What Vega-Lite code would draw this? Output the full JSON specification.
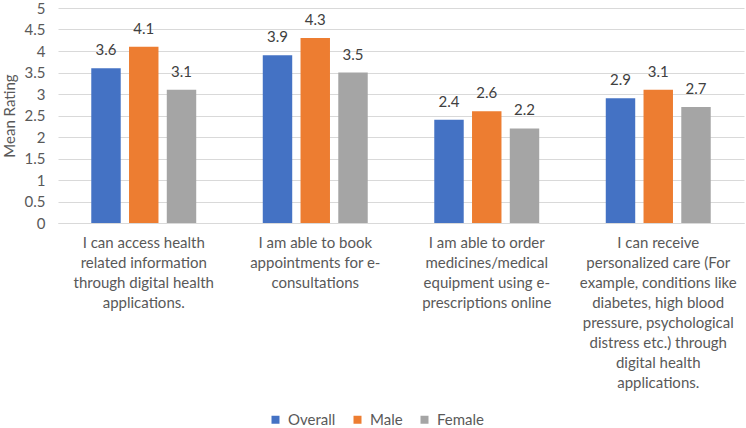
{
  "$schema": "https://vega.github.io/schema/vega-lite/v6.json",
  "width": 686,
  "height": 215,
  "autosize": {"type": "none"},
  "padding": {"left": 58, "top": 8, "right": 2, "bottom": 205},
  "background": "white",
  "config": {
    "font": "Lato",
    "view": {"stroke": null},
    "axis": {"labelColor": "#595959", "titleColor": "#595959", "labelFont": "Lato", "titleFont": "Lato"}
  },
  "data": {
    "values": [
      {"statement": "I can access health\nrelated information\nthrough digital health\napplications.", "group": "Overall", "rating": 3.6},
      {"statement": "I can access health\nrelated information\nthrough digital health\napplications.", "group": "Male", "rating": 4.1},
      {"statement": "I can access health\nrelated information\nthrough digital health\napplications.", "group": "Female", "rating": 3.1},
      {"statement": "I am able to book\nappointments for e-\nconsultations", "group": "Overall", "rating": 3.9},
      {"statement": "I am able to book\nappointments for e-\nconsultations", "group": "Male", "rating": 4.3},
      {"statement": "I am able to book\nappointments for e-\nconsultations", "group": "Female", "rating": 3.5},
      {"statement": "I am able to order\nmedicines/medical\nequipment using e-\nprescriptions online", "group": "Overall", "rating": 2.4},
      {"statement": "I am able to order\nmedicines/medical\nequipment using e-\nprescriptions online", "group": "Male", "rating": 2.6},
      {"statement": "I am able to order\nmedicines/medical\nequipment using e-\nprescriptions online", "group": "Female", "rating": 2.2},
      {"statement": "I can receive\npersonalized care (For\nexample, conditions like\ndiabetes, high blood\npressure, psychological\ndistress etc.) through\ndigital health\napplications.", "group": "Overall", "rating": 2.9},
      {"statement": "I can receive\npersonalized care (For\nexample, conditions like\ndiabetes, high blood\npressure, psychological\ndistress etc.) through\ndigital health\napplications.", "group": "Male", "rating": 3.1},
      {"statement": "I can receive\npersonalized care (For\nexample, conditions like\ndiabetes, high blood\npressure, psychological\ndistress etc.) through\ndigital health\napplications.", "group": "Female", "rating": 2.7}
    ]
  },
  "encoding": {
    "x": {
      "field": "statement", "type": "nominal", "sort": null, "title": null,
      "scale": {"paddingInner": 0.388, "paddingOuter": 0.194},
      "axis": {
        "labelAngle": 0, "labelFontSize": 15, "labelLineHeight": 20, "labelPadding": 12,
        "labelExpr": "split(datum.value, '\\n')", "labelLimit": 300,
        "ticks": false, "domainColor": "#D9D9D9", "domainWidth": 1, "grid": false
      }
    },
    "xOffset": {
      "field": "group", "type": "nominal", "sort": ["Overall", "Male", "Female"],
      "scale": {"paddingInner": 0.22, "paddingOuter": 0}
    },
    "y": {
      "field": "rating", "type": "quantitative", "title": "Mean Rating",
      "scale": {"domain": [0, 5], "nice": false},
      "axis": {
        "values": [0, 0.5, 1, 1.5, 2, 2.5, 3, 3.5, 4, 4.5, 5],
        "labelExpr": "datum.value",
        "labelFontSize": 15, "titleFontSize": 15, "titleFontWeight": "normal",
        "ticks": false, "domain": false, "gridColor": "#D9D9D9", "labelPadding": 13, "titlePadding": 7
      }
    }
  },
  "layer": [
    {
      "mark": {"type": "bar"},
      "encoding": {
        "color": {
          "field": "group", "type": "nominal",
          "scale": {"domain": ["Overall", "Male", "Female"], "range": ["#4472C4", "#ED7D31", "#A5A5A5"]},
          "legend": {
            "title": null, "orient": "none", "direction": "horizontal",
            "legendX": 210, "legendY": 404,
            "symbolType": "square", "symbolSize": 64, "symbolStrokeWidth": 0,
            "labelFontSize": 15, "labelColor": "#595959", "columnPadding": 14, "labelOffset": 5
          }
        }
      }
    },
    {
      "mark": {"type": "text", "baseline": "alphabetic", "dy": -13, "fontSize": 15, "color": "#404040"},
      "encoding": {
        "text": {"field": "rating", "type": "quantitative", "format": ".1f"}
      }
    }
  ]
}
